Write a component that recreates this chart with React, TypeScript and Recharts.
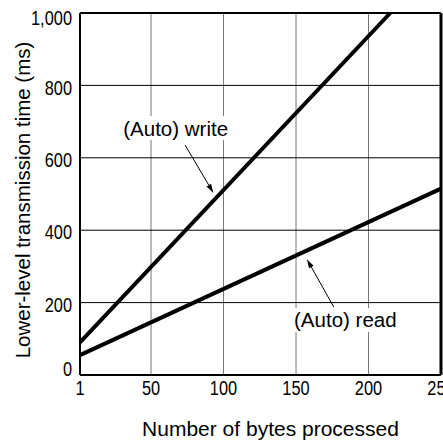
import React from 'react';
import { LineChart, Line, XAxis, YAxis, CartesianGrid, ReferenceLine, ReferenceDot } from 'recharts';

// bytes processed vs. lower-level transmission time (ms)
const writeBytes = [1, 215];
const writeMs = [90, 1000];
const readBytes = [1, 250];
const readMs = [55, 515];

const xTicks = [1, 50, 100, 150, 200, 250];
const yTicks = [0, 200, 400, 600, 800, 1000];

const writeData = writeBytes.map((b, i) => ({ bytes: b, ms: writeMs[i] }));
const readData = readBytes.map((b, i) => ({ bytes: b, ms: readMs[i] }));

const FONT = '"Liberation Sans", Arial, sans-serif';

// tall, narrow digits like the scanned figure
const NarrowTick = (props: any) => {
  const { x, y, payload, anchor, dx = 0, dy = 0, shift } = props;
  const label = Number(payload.value).toLocaleString('en-US');
  const extra = shift ? shift[payload.value] || 0 : 0;
  return (
    <text
      transform={`translate(${x + dx}, ${y + dy + extra}) scale(0.78, 1)`}
      textAnchor={anchor}
      dominantBaseline="central"
      fontFamily={FONT}
      fontSize={21}
      fill="#000"
    >
      {label}
    </text>
  );
};

const Arrow = (props: any) => {
  const { x1, y1, x2, y2 } = props;
  if (x1 == null) return null;
  const ang = Math.atan2(y2 - y1, x2 - x1);
  const len = 9;
  const w = 2.6;
  const bx = x2 - len * Math.cos(ang);
  const by = y2 - len * Math.sin(ang);
  const px = -Math.sin(ang) * w;
  const py = Math.cos(ang) * w;
  return (
    <g>
      <line x1={x1} y1={y1} x2={bx} y2={by} stroke="#000" strokeWidth={1} />
      <polygon points={`${x2},${y2} ${bx + px},${by + py} ${bx - px},${by - py}`} fill="#000" />
    </g>
  );
};

const boxLabel = (text: string, w: number) => (props: any) => {
  const { cx, cy } = props;
  return (
    <g>
      <rect x={cx - w / 2} y={cy - 12} width={w} height={24} fill="#fff" />
      <text x={cx} y={cy} textAnchor="middle" dominantBaseline="central" fontFamily={FONT} fontSize={20.5} fill="#000">
        {text}
      </text>
    </g>
  );
};

const YLabel = (props: any) => {
  const { viewBox } = props;
  const cx = viewBox.x + 22;
  const cy = viewBox.y + viewBox.height / 2 + 6;
  return (
    <text x={cx} y={cy} transform={`rotate(-90, ${cx}, ${cy})`} textAnchor="middle" dominantBaseline="central" fontFamily={FONT} fontSize={20.5} fill="#000">
      Lower-level transmission time (ms)
    </text>
  );
};

const XLabel = (props: any) => {
  const { viewBox } = props;
  return (
    <text x={viewBox.x + viewBox.width / 2 + 10} y={428} textAnchor="middle" dominantBaseline="central" fontFamily={FONT} fontSize={21} fill="#000">
      Number of bytes processed
    </text>
  );
};

export default function App() {
  return (
    <div style={{ position: 'absolute', left: 0, top: 0, width: 443, height: 441, background: '#fff' }}>
      <LineChart width={443} height={441} margin={{ top: 13, right: 2, left: 0, bottom: 0 }}>
        <CartesianGrid horizontal={false} stroke="#777" strokeWidth={1} />
        <CartesianGrid vertical={false} stroke="#000" strokeWidth={1} />
        <XAxis
          type="number"
          dataKey="bytes"
          domain={[1, 250]}
          ticks={xTicks}
          interval={0}
          height={66}
          tickSize={0}
          axisLine={{ stroke: '#000', strokeWidth: 2 }}
          tick={<NarrowTick anchor="middle" dy={11} />}
          label={<XLabel />}
        />
        <YAxis
          type="number"
          dataKey="ms"
          domain={[0, 1000]}
          ticks={yTicks}
          interval={0}
          width={80}
          tickSize={0}
          axisLine={{ stroke: '#000', strokeWidth: 2 }}
          tick={<NarrowTick anchor="end" dx={-6} dy={2} shift={{ 0: -8, 1000: 3 }} />}
          label={<YLabel />}
        />
        <ReferenceLine y={1000} stroke="#000" strokeWidth={2} />
        <ReferenceLine x={250} stroke="#000" strokeWidth={3} />
        <ReferenceDot x={67} y={682} r={0} shape={boxLabel('(Auto) write', 110)} />
        <ReferenceDot x={184} y={152} r={0} shape={boxLabel('(Auto) read', 110)} />
        <ReferenceLine segment={[{ x: 73.5, y: 635 }, { x: 93, y: 503 }]} shape={<Arrow />} />
        <ReferenceLine segment={[{ x: 176, y: 188 }, { x: 157.5, y: 320 }]} shape={<Arrow />} />
        <Line data={writeData} dataKey="ms" stroke="#000" strokeWidth={4} dot={false} isAnimationActive={false} />
        <Line data={readData} dataKey="ms" stroke="#000" strokeWidth={4} dot={false} isAnimationActive={false} />
      </LineChart>
    </div>
  );
}
